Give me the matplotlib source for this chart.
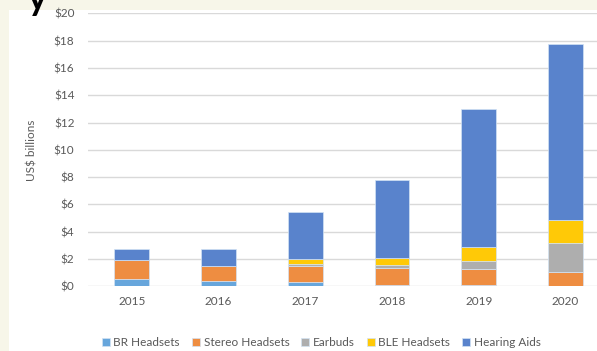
import matplotlib.pyplot as plt
import numpy as np
from matplotlib.patches import Rectangle

years = ["2015", "2016", "2017", "2018", "2019", "2020"]
br_headsets = [0.55, 0.37, 0.29, 0.07, 0.07, 0.05]
stereo_headsets = [1.35, 1.10, 1.18, 1.25, 1.18, 1.00]
earbuds = [0.0, 0.05, 0.19, 0.23, 0.59, 2.11]
ble_headsets = [0.0, 0.0, 0.34, 0.54, 1.06, 1.70]
hearing_aids = [0.85, 1.24, 3.44, 5.68, 10.09, 12.89]

series = [
    ("BR Headsets", br_headsets, "#67A6DC"),
    ("Stereo Headsets", stereo_headsets, "#EE8D41"),
    ("Earbuds", earbuds, "#AEAEAE"),
    ("BLE Headsets", ble_headsets, "#FFC907"),
    ("Hearing Aids", hearing_aids, "#5983CC"),
]

plt.rcParams['font.family'] = ['Lato', 'DejaVu Sans']

fig = plt.figure(figsize=(5.97, 3.51), dpi=100, facecolor="#f7f6e9")
# white slide area behind the chart
bg = Rectangle((9 / 597, 0), 1, (351 - 10) / 351, transform=fig.transFigure,
               facecolor="white", edgecolor="none", zorder=-5)
fig.add_artist(bg)
# cut-off title fragment
fig.text(0.047, 1.0, "y", fontsize=26, fontweight="bold", color="black",
         ha="left", va="center")

ax = fig.add_axes([0.148, 0.184, 0.872, 0.778])
ax.set_facecolor("none")
ax.set_zorder(1)

x = np.arange(len(years))
bottom = np.zeros(len(years))
for name, vals, col in series:
    ax.bar(x, vals, 0.40, bottom=bottom, color=col, label=name,
           edgecolor="#d3e3f4", linewidth=0.5, zorder=3)
    bottom += np.array(vals)

ax.set_xlim(-0.5, 5.5)
ax.set_ylim(0, 20)
ax.set_yticks(range(0, 21, 2))
ax.set_yticklabels([f"${v}" for v in range(0, 21, 2)])
ax.set_xticks(x)
ax.set_xticklabels(years)
ax.grid(axis="y", color="#d9d9d9", linewidth=1.0, zorder=0)
for s in ax.spines.values():
    s.set_visible(False)
ax.tick_params(axis="both", length=0, labelsize=8.5, colors="#595959")
ax.tick_params(axis="y", pad=10)
ax.tick_params(axis="x", pad=7)
ax.set_ylabel("US$ billions", fontsize=8.5, color="#595959", labelpad=12)

fig.legend(loc="center", bbox_to_anchor=(0.538, 0.023), ncol=5,
           frameon=False, fontsize=8.5, labelcolor="#595959",
           handlelength=0.7, handleheight=0.7, handletextpad=0.3,
           columnspacing=1.0)

fig.savefig("out.png", dpi=100, facecolor=fig.get_facecolor())
